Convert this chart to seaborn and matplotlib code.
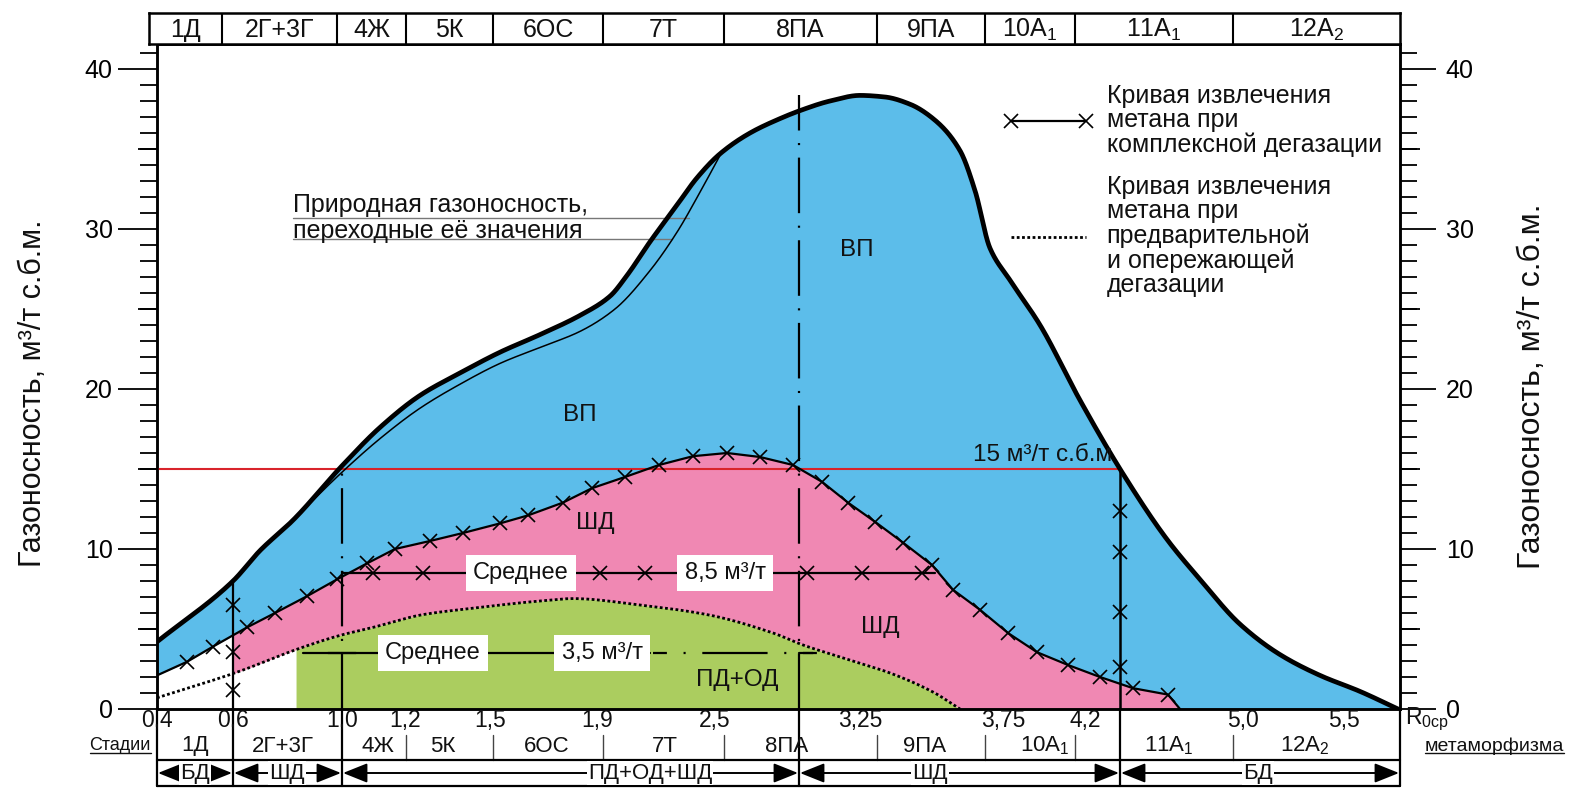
import numpy as np
import matplotlib
matplotlib.use("Agg")
import matplotlib.pyplot as plt
from matplotlib import font_manager
from matplotlib.lines import Line2D
import seaborn as sns

# ---------------------------------------------------------------------------
# Rank scale: positions along the axis (scale units) and the R0 labels
r0_s = [0, 76, 185, 248, 333, 440, 558, 703, 846, 928, 1086, 1187]
r0_labels = ["0,4", "0,6", "1,0", "1,2", "1,5", "1,9", "2,5", "3,25", "3,75", "4,2", "5,0", "5,5"]

# Metamorphism stages (header row and the stage row under the axis)
stage_edges = [-8, 65, 180, 249, 336, 446, 567, 720, 828, 918, 1076, 1243]
stage_names = ["1Д", "2Г+3Г", "4Ж", "5К", "6ОС", "7Т", "8ПА", "9ПА",
               r"10А$_1$", r"11А$_1$", r"12А$_2$"]
stage_row_s = [38, 126, 221, 286, 390, 508, 630, 768, 888, 1012, 1148]

# Degassing zones
zone_edges = [0, 76, 185, 642, 963, 1243]
zone_names = ["БД", "ШД", "ПД+ОД+ШД", "ШД", "БД"]
zone_label_s = [38, 130, 493, 773, 1101]

# Natural gas content, m3/t (thick envelope)
nat_s = [0, 76, 103, 136, 185, 223, 263, 303, 343, 383, 423, 453, 470, 493, 520,
         540, 563, 593, 623, 643, 673, 703, 728, 753, 778, 803, 818, 833, 853, 883,
         923, 965, 1010, 1043, 1083, 1123, 1163, 1203, 1241]
nat_gas = [4.2, 8.0, 9.9, 11.8, 15.2, 17.6, 19.6, 21.0, 22.3, 23.4, 24.6, 25.8, 27.1, 29.2, 31.5,
           33.2, 34.7, 36.0, 36.9, 37.4, 38.0, 38.35, 38.25, 37.8, 36.8, 34.9, 32.4, 28.8, 26.8, 24.0,
           19.3, 14.8, 10.6, 8.1, 5.3, 3.4, 2.1, 1.1, 0.0]

# Transitional values of the natural gas content (thin line)
thin_s = [136, 185, 223, 263, 303, 343, 383, 423, 458, 493, 520, 543, 563]
thin_gas = [11.8, 14.8, 16.9, 18.8, 20.3, 21.6, 22.6, 23.6, 25.0, 27.4, 29.8, 32.3, 34.6]

# Methane recovery with complex degassing (line with crosses)
ext_s = [0, 30, 56, 90, 118, 150, 180, 210, 238, 273, 306, 343, 371, 406, 435, 468, 502, 536,
         570, 603, 636, 665, 691, 718, 746, 775, 796, 823, 851, 880, 911, 943, 976, 1011, 1023]
ext_gas = [2.1, 2.95, 3.9, 5.1, 6.0, 7.05, 8.1, 9.1, 10.0, 10.5, 11.0, 11.6, 12.1, 12.9, 13.8, 14.5,
           15.25, 15.8, 16.0, 15.75, 15.25, 14.2, 12.9, 11.7, 10.4, 9.0, 7.45, 6.2, 4.75, 3.55,
           2.75, 2.0, 1.3, 0.9, 0.0]

# Methane recovery with preliminary and advance degassing (dotted line)
pre_s = [0, 80, 143, 183, 216, 266, 316, 383, 416, 483, 550, 616, 646, 683, 733, 776, 803]
pre_gas = [0.7, 2.3, 3.8, 4.6, 5.1, 5.9, 6.3, 6.75, 6.9, 6.5, 5.9, 4.75, 4.0, 3.25, 2.25, 1.06, 0.0]

# Averages and threshold
mean_complex = 8.5
mean_complex_span = (185, 778)
mean_complex_marks = [216, 266, 443, 488, 650, 705, 765]
mean_pre = 3.5
mean_pre_span = (146, 660)
threshold = 15.0
green_from_s = 139

# Crosses on the zone boundaries at R0 = 0,6 and R0 = 4,2
marks_06 = [1.19, 3.56, 6.5]
marks_42 = [2.6, 6.06, 9.8, 12.4]

# ---------------------------------------------------------------------------
BLUE = "#5CBDEA"
PINK = "#F088B3"
GREEN = "#ABCD5F"
RED = "#D9242B"
INK = "#111111"

available = {f.name for f in font_manager.fontManager.ttflist}
NARROW = "Liberation Sans Narrow" if "Liberation Sans Narrow" in available else "Liberation Sans"

sns.set_theme(style="white", rc={
    "axes.edgecolor": "black", "axes.linewidth": 1.8,
    "xtick.color": "black", "ytick.color": "black",
    "text.color": INK, "axes.labelcolor": INK,
    "lines.scale_dashes": False,
})
plt.rcParams["font.family"] = ["Liberation Sans", "DejaVu Sans"]
plt.rcParams["mathtext.fontset"] = "custom"
plt.rcParams["mathtext.rm"] = NARROW
plt.rcParams["mathtext.it"] = NARROW
plt.rcParams["mathtext.bf"] = NARROW


def smooth(xs, ys, xn):
    """Monotone cubic (PCHIP) curve through the given points."""
    x = np.asarray(xs, float)
    y = np.asarray(ys, float)
    h = np.diff(x)
    d = np.diff(y) / h
    m = np.zeros_like(y)
    m[0], m[-1] = d[0], d[-1]
    for k in range(1, len(x) - 1):
        if d[k - 1] * d[k] > 0:
            w1 = 2 * h[k] + h[k - 1]
            w2 = h[k] + 2 * h[k - 1]
            m[k] = (w1 + w2) / (w1 / d[k - 1] + w2 / d[k])
    xn = np.asarray(xn, float)
    i = np.clip(np.searchsorted(x, xn, side="right") - 1, 0, len(h) - 1)
    t = (xn - x[i]) / h[i]
    h00 = 2 * t**3 - 3 * t**2 + 1
    h10 = t**3 - 2 * t**2 + t
    h01 = -2 * t**3 + 3 * t**2
    h11 = t**3 - t**2
    return h00 * y[i] + h10 * h[i] * m[i] + h01 * y[i + 1] + h11 * h[i] * m[i + 1]


W, H, DPI = 1572, 788, 100
fig = plt.figure(figsize=(W / DPI, H / DPI), dpi=DPI, facecolor="white")


def px_rect(x0, y0, x1, y1):
    return [x0 / W, 1 - y1 / H, (x1 - x0) / W, (y1 - y0) / H]


AX_L, AX_T, AX_R, AX_B = 157, 44, 1400, 709
PX_PER_UNIT = 16.0
ax = fig.add_axes(px_rect(AX_L, AX_T, AX_R, AX_B))
ax.set_xlim(0, zone_edges[-1])
ax.set_ylim(0, (AX_B - AX_T) / PX_PER_UNIT)
ax.set_facecolor("white")

LABEL_FS = 17.5

# ---- areas ----
g = np.linspace(0, nat_s[-1], 3000)
top = smooth(nat_s, nat_gas, g)
ext = np.interp(g, ext_s, ext_gas)
pre = np.where(g <= pre_s[-1], smooth(pre_s, pre_gas, np.minimum(g, pre_s[-1])), 0.0)

ax.fill_between(g, ext, top, color=BLUE, lw=0, zorder=1)
ax.fill_between(g, pre, ext, where=g >= zone_edges[1], color=PINK, lw=0, zorder=1)
ax.fill_between(g, 0, pre, where=g >= green_from_s, color=GREEN, lw=0, zorder=1)

# ---- threshold ----
ax.hlines(threshold, 0, zone_edges[4], color=RED, lw=1.5, zorder=3)

# ---- curves ----
sns.lineplot(x=g, y=top, ax=ax, color="black", lw=3.4, sort=False, estimator=None, zorder=6)
gt = np.linspace(thin_s[0], thin_s[-1], 400)
sns.lineplot(x=gt, y=smooth(thin_s, thin_gas, gt), ax=ax, color="black", lw=1.1,
             sort=False, estimator=None, zorder=6)
sns.lineplot(x=ext_s, y=ext_gas, ax=ax, color="black", lw=1.6, sort=False, estimator=None,
             marker="x", markersize=10, markeredgewidth=1.2, markeredgecolor="black",
             markevery=list(range(1, len(ext_s) - 1)), zorder=6)
gp = np.linspace(0, pre_s[-1], 800)
ax.plot(gp, smooth(pre_s, pre_gas, gp), color="black", lw=2.0, ls=(0, (2.0, 1.8)), zorder=6)

# ---- zone boundaries inside the plot ----
dashdot = (0, (40, 9, 1.5, 9))
x06, x10, x8pa, x42 = zone_edges[1], zone_edges[2], zone_edges[3], zone_edges[4]
top_at = lambda s: float(np.interp(s, g, top))
ax.plot([x06, x06], [0, top_at(x06)], color="black", lw=1.6, zorder=5)
ax.plot([x06] * len(marks_06), marks_06, ls="none", marker="x", ms=10, mew=1.2, color="black", zorder=6)
ax.plot([x10, x10], [0, top_at(x10)], color="black", lw=1.6, ls=dashdot, zorder=5)
ax.plot([x8pa, x8pa], [0, 38.4], color="black", lw=1.6, ls=dashdot, zorder=5)
ax.plot([x42, x42], [0, threshold], color="black", lw=1.8, zorder=5)
ax.plot([x42] * len(marks_42), marks_42, ls="none", marker="x", ms=10, mew=1.2, color="black", zorder=6)

# ---- averages ----
ax.plot(mean_complex_span, [mean_complex] * 2, color="black", lw=1.6, zorder=5)
ax.plot(mean_complex_marks, [mean_complex] * len(mean_complex_marks), ls="none", marker="x",
        ms=10, mew=1.2, color="black", zorder=6)
ax.plot([mean_pre_span[0], 493], [mean_pre] * 2, color="black", lw=1.6, zorder=5)
ax.plot([496, mean_pre_span[1]], [mean_pre] * 2, color="black", lw=1.6,
        ls=(0, (10, 12, 1.5, 12, 47, 12, 1.5, 12)), zorder=5)
ax.plot([x10 - 14, x10 + 14], [mean_pre] * 2, color="black", lw=1.6, zorder=5)
ax.plot([x8pa, x8pa + 14], [mean_pre] * 2, color="black", lw=1.6, zorder=5)

box = dict(boxstyle="square,pad=0.3", fc="white", ec="none")
ax.text(364, mean_complex, "Среднее", ha="center", va="center", fontsize=17, bbox=box, zorder=8)
ax.text(568, mean_complex, "8,5 м³/т", ha="center", va="center", fontsize=17, bbox=box, zorder=8)
ax.text(276, mean_pre, "Среднее", ha="center", va="center", fontsize=17, bbox=box, zorder=8)
ax.text(445, mean_pre, "3,5 м³/т", ha="center", va="center", fontsize=17, bbox=box, zorder=8)

# ---- region labels ----
for s, v, t in [(423, 18.4, "ВП"), (700, 28.7, "ВП"), (438, 11.6, "ШД"),
                (723, 5.1, "ШД"), (580, 1.8, "ПД+ОД")]:
    ax.text(s, v, t, ha="center", va="center", fontsize=LABEL_FS, zorder=8)
ax.text(955, 15.9, "15 м³/т с.б.м", ha="right", va="center", fontsize=LABEL_FS, zorder=8)

# ---- natural gas content caption ----
ax.text(136, 31.5, "Природная газоносность,", ha="left", va="center", fontsize=18, zorder=8)
ax.text(136, 29.85, "переходные её значения", ha="left", va="center", fontsize=18, zorder=8)
ax.plot([136, 532], [30.69, 30.69], color="#777777", lw=1.0, zorder=4)
ax.plot([136, 515], [29.37, 29.37], color="#777777", lw=1.0, zorder=4)

# ---- legend ----
handles = [
    Line2D([], [], color="black", lw=1.6, marker="x", ms=10, mew=1.2),
    Line2D([], [], color="black", lw=2.0, ls=(0, (2.0, 1.8))),
]
labels = ["Кривая извлечения\nметана при\nкомплексной дегазации",
          "Кривая извлечения\nметана при\nпредварительной\nи опережающей\nдегазации"]
leg = ax.legend(handles, labels, loc="upper left", bbox_to_anchor=(1003 / W, 1 - 84 / H),
                bbox_transform=fig.transFigure, frameon=False, fontsize=18, numpoints=2,
                handlelength=3.6, handletextpad=0.55, labelspacing=0.7, borderpad=0,
                borderaxespad=0)
for t in leg.get_texts():
    t.set_linespacing(1.02)

# ---- y axes ----
ax.set_xticks([])
ax.set_yticks([0, 10, 20, 30, 40])
ax.set_yticks(np.arange(0, 42), minor=True)
ax.tick_params(axis="y", which="major", left=True, length=28, width=1.3, labelsize=18, pad=4)
ax.tick_params(axis="y", which="minor", left=True, length=12, width=1.3)
ax.set_ylabel("Газоносность, м³/т с.б.м.", fontsize=22)
ax.yaxis.set_label_coords((48 - AX_L) / (AX_R - AX_L), (AX_B - 393) / (AX_B - AX_T))

ax2 = ax.twinx()
ax2.set_ylim(ax.get_ylim())
ax2.set_yticks([0, 10, 20, 30, 40])
ax2.set_yticks(np.arange(0, 42), minor=True)
ax2.tick_params(axis="y", which="major", right=True, length=26, width=1.3, labelsize=18, pad=7)
ax2.tick_params(axis="y", which="minor", right=True, length=12, width=1.3)
ax2.set_ylabel("Газоносность, м³/т с.б.м.", fontsize=23)
ax2.yaxis.set_label_coords((1517 - AX_L) / (AX_R - AX_L), (AX_B - 386) / (AX_B - AX_T))
for a in (ax, ax2):
    for sp in a.spines.values():
        sp.set_linewidth(1.8)
        sp.set_color("black")

ytr = ax.get_yaxis_transform()
span = AX_R - AX_L
for v in (5, 15, 25, 35):
    ax.plot([-19 / span, 0], [v, v], transform=ytr, color="black", lw=1.3, clip_on=False,
            solid_capstyle="butt")
    ax.plot([1, 1 + 20 / span], [v, v], transform=ytr, color="black", lw=1.3, clip_on=False,
            solid_capstyle="butt")

# ---- header with stage names ----
hax = fig.add_axes(px_rect(149, 13, AX_R, AX_T))
hax.set_xlim(stage_edges[0], stage_edges[-1])
hax.set_ylim(0, 1)
hax.set_xticks([])
hax.set_yticks([])
for sp in hax.spines.values():
    sp.set_linewidth(1.8)
    sp.set_color("black")
for e in stage_edges[1:-1]:
    hax.axvline(e, color="black", lw=1.5)
for a, b, name in zip(stage_edges[:-1], stage_edges[1:], stage_names):
    hax.text((a + b) / 2, 0.46, name, ha="center", va="center", fontsize=18, family=NARROW)

# ---- table under the axis (y in figure pixels from the top) ----
bax = fig.add_axes(px_rect(AX_L, AX_B, AX_R, H))
bax.set_xlim(0, zone_edges[-1])
bax.set_ylim(H, AX_B)
bax.axis("off")
ROW_R0, ROW_STAGE, ROW_LINE, ROW_ZONE, ROW_END = 721, 746, 760, 773, 786

for s, lab in zip(r0_s, r0_labels):
    bax.text(s, ROW_R0, lab, ha="center", va="center", fontsize=16.5, family=NARROW)
bax.text(zone_edges[-1] + 5, ROW_R0 - 2, r"R$_\mathregular{0ср}$", ha="left", va="center",
         fontsize=16.5, family=NARROW, clip_on=False)

for s, name in zip(stage_row_s, stage_names):
    bax.text(s, ROW_STAGE, name, ha="center", va="center", fontsize=16, family=NARROW)
for e in stage_edges[3:-1]:
    bax.plot([e, e], [735, ROW_LINE], color="#444444", lw=1.0)

t_left = bax.text(-6, ROW_STAGE, "Стадии", ha="right", va="center", fontsize=13,
                  family=NARROW, clip_on=False)
t_right = bax.text(zone_edges[-1] + 25, ROW_STAGE, "метаморфизма", ha="left", va="center",
                   fontsize=14, family=NARROW, clip_on=False)

for e in zone_edges:
    bax.plot([e, e], [AX_B, ROW_END], color="black", lw=1.6, clip_on=False)
bax.plot([0, zone_edges[-1]], [ROW_LINE, ROW_LINE], color="black", lw=1.6, clip_on=False)
bax.plot([0, zone_edges[-1]], [ROW_END, ROW_END], color="black", lw=1.6, clip_on=False)

for a, b, name, ls in zip(zone_edges[:-1], zone_edges[1:], zone_names, zone_label_s):
    bax.annotate("", xy=(a + 1, ROW_ZONE), xytext=(b - 1, ROW_ZONE),
                 arrowprops=dict(arrowstyle="<|-|>,head_length=0.75,head_width=0.3",
                                 color="black", lw=1.4, shrinkA=0, shrinkB=0,
                                 mutation_scale=20))
    bax.text(ls, ROW_ZONE, name, ha="center", va="center", fontsize=16, family=NARROW,
             bbox=dict(boxstyle="square,pad=0.06", fc="white", ec="none"), zorder=5)

# underline the two side captions
fig.canvas.draw()
renderer = fig.canvas.get_renderer()
inv = fig.transFigure.inverted()
for t in (t_left, t_right):
    bb = t.get_window_extent(renderer)
    (x0, y0), (x1, _) = inv.transform([(bb.x0, bb.y0 + 2), (bb.x1, bb.y0 + 2)])
    fig.add_artist(Line2D([x0, x1], [y0, y0], transform=fig.transFigure, color=INK, lw=1.0))

fig.savefig("out.png", dpi=DPI, facecolor="white")
